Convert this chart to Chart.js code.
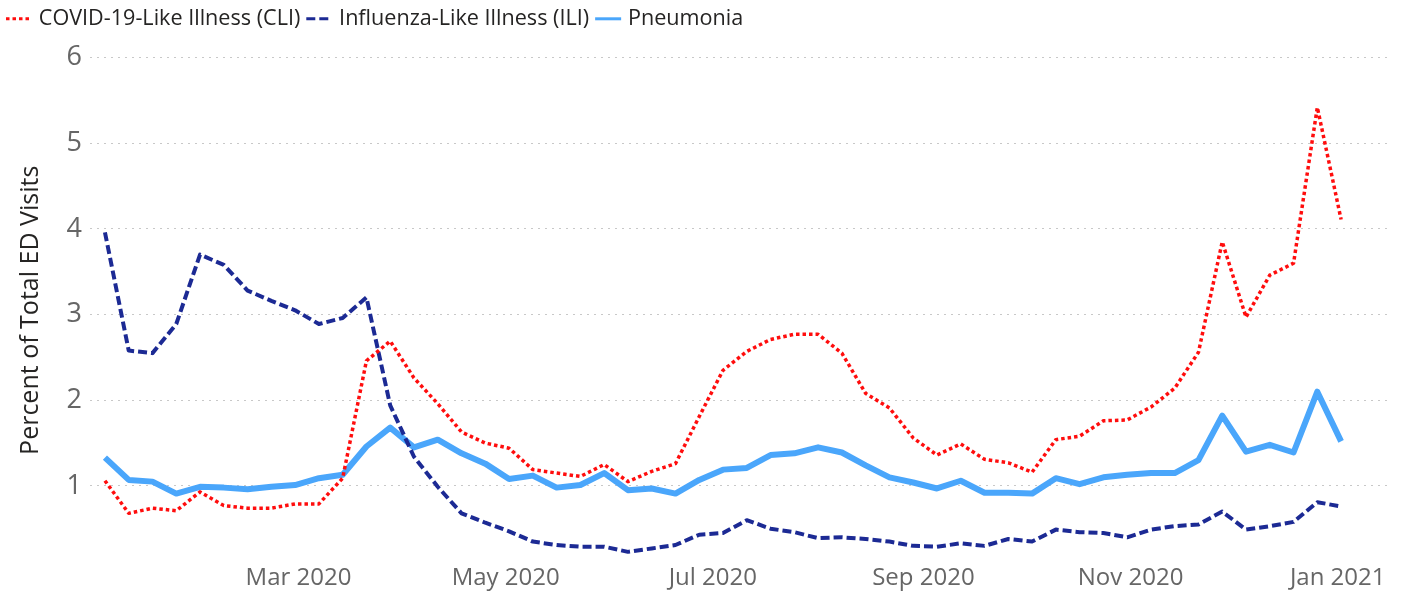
<!DOCTYPE html>
<html>
<head>
<meta charset="utf-8">
<script src="https://cdn.jsdelivr.net/npm/chart.js@4.4.1/dist/chart.umd.min.js"></script>
<style>
    html, body { margin: 0; padding: 0; background: #ffffff; }
    #chartBox { position: relative; width: 1404px; height: 592px; }
</style>
</head>
<body>
<div id="chartBox"><canvas id="myChart"></canvas></div>
<script>
// week ending dates (MMWR weeks of 2020)
const weekEnding = [
    '2020-01-04', '2020-01-11', '2020-01-18', '2020-01-25', '2020-02-01', '2020-02-08', '2020-02-15',
    '2020-02-22', '2020-02-29', '2020-03-07', '2020-03-14', '2020-03-21', '2020-03-28', '2020-04-04',
    '2020-04-11', '2020-04-18', '2020-04-25', '2020-05-02', '2020-05-09', '2020-05-16', '2020-05-23',
    '2020-05-30', '2020-06-06', '2020-06-13', '2020-06-20', '2020-06-27', '2020-07-04', '2020-07-11',
    '2020-07-18', '2020-07-25', '2020-08-01', '2020-08-08', '2020-08-15', '2020-08-22', '2020-08-29',
    '2020-09-05', '2020-09-12', '2020-09-19', '2020-09-26', '2020-10-03', '2020-10-10', '2020-10-17',
    '2020-10-24', '2020-10-31', '2020-11-07', '2020-11-14', '2020-11-21', '2020-11-28', '2020-12-05',
    '2020-12-12', '2020-12-19', '2020-12-26', '2021-01-02'
];

// percent of total ED visits
const cliValues = [
    1.06, 0.68, 0.74, 0.71, 0.93, 0.77, 0.74, 0.74, 0.79, 0.79, 1.09, 2.46, 2.69, 2.26,
    1.96, 1.63, 1.50, 1.44, 1.19, 1.15, 1.11, 1.25, 1.05, 1.17, 1.26, 1.81, 2.35, 2.57,
    2.71, 2.77, 2.77, 2.55, 2.08, 1.91, 1.56, 1.36, 1.49, 1.31, 1.27, 1.16, 1.54, 1.58,
    1.76, 1.77, 1.92, 2.14, 2.56, 3.85, 2.97, 3.46, 3.60, 5.42, 4.11
];
const iliValues = [
    3.96, 2.58, 2.55, 2.89, 3.70, 3.58, 3.28, 3.16, 3.05, 2.89, 2.96, 3.20, 1.94, 1.34,
    0.99, 0.68, 0.57, 0.47, 0.35, 0.31, 0.29, 0.29, 0.23, 0.27, 0.31, 0.43, 0.45, 0.60,
    0.50, 0.46, 0.39, 0.40, 0.38, 0.35, 0.30, 0.29, 0.33, 0.30, 0.38, 0.35, 0.49, 0.46,
    0.45, 0.40, 0.49, 0.53, 0.55, 0.70, 0.49, 0.53, 0.58, 0.81, 0.76
];
const pneumoniaValues = [
    1.33, 1.07, 1.05, 0.91, 0.99, 0.98, 0.96, 0.99, 1.01, 1.09, 1.13, 1.46, 1.68, 1.45,
    1.54, 1.38, 1.26, 1.08, 1.12, 0.98, 1.01, 1.15, 0.95, 0.97, 0.91, 1.07, 1.19, 1.21,
    1.36, 1.38, 1.45, 1.39, 1.24, 1.10, 1.04, 0.97, 1.06, 0.92, 0.92, 0.91, 1.09, 1.02,
    1.10, 1.13, 1.15, 1.15, 1.30, 1.82, 1.40, 1.48, 1.39, 2.10, 1.52
];

// axis ticks
const yTickValues = [1, 2, 3, 4, 5, 6];
const xTickDates = ['2020-03-01', '2020-05-01', '2020-07-01', '2020-09-01', '2020-11-01', '2021-01-01'];
const xTickLabels = ['Mar 2020', 'May 2020', 'Jul 2020', 'Sep 2020', 'Nov 2020', 'Jan 2021'];

// days since 2020-01-01
const toDay = (s) => {
    const p = s.split('-');
    return (Date.UTC(+p[0], +p[1] - 1, +p[2]) - Date.UTC(2020, 0, 1)) / 86400000;
}

const makePoints = (values) => {
    let pts = new Array();
    for (let index = 0; index < values.length; index++) {
        pts.push({ x: toDay(weekEnding[index]), y: values[index] });
    }
    return pts;
}

const fontName = "'Open Sans', sans-serif";

// extra room under the legend + line samples drawn with the dash of each series
const legendLines = {
    id: 'legendLines',
    beforeInit(chart) {
        const fitLegend = chart.legend.fit;
        chart.legend.fit = function fit() {
            fitLegend.bind(chart.legend)();
            this.height += 18;
        };
    },
    afterDraw(chart) {
        const legend = chart.legend;
        if (!legend || !legend.legendHitBoxes) return;
        const c = chart.ctx;
        legend.legendHitBoxes.forEach((box, i) => {
            const ds = chart.data.datasets[i];
            const y = box.top + box.height / 2;
            c.save();
            c.strokeStyle = ds.borderColor;
            c.lineWidth = 3;
            c.setLineDash(ds.borderDash || []);
            c.beginPath();
            c.moveTo(box.left, y);
            c.lineTo(box.left + 26, y);
            c.stroke();
            c.restore();
        });
    }
};

const ctx = document.getElementById('myChart');

mychartView = new Chart(ctx, {
    type: 'line',
    data: {
        datasets: [{
            label: 'COVID-19-Like Illness (CLI)',
            data: makePoints(cliValues),
            borderColor: '#ff0d0d',
            borderWidth: 3.5,
            borderDash: [3.5, 3]
        }, {
            label: 'Influenza-Like Illness (ILI)',
            data: makePoints(iliValues),
            borderColor: '#1c2a94',
            borderWidth: 4,
            borderDash: [9, 4]
        }, {
            label: 'Pneumonia',
            data: makePoints(pneumoniaValues),
            borderColor: '#4aa6fb',
            borderWidth: 6
        }]
    },
    plugins: [legendLines],
    options: {
        responsive: true,
        maintainAspectRatio: false,
        animation: false,
        layout: {
            padding: { top: 2, right: 14, bottom: 0, left: 0 }
        },
        elements: {
            point: { radius: 0, hoverRadius: 0 },
            line: { tension: 0, borderJoinStyle: 'round' }
        },
        plugins: {
            tooltip: { enabled: false },
            legend: {
                position: 'top',
                align: 'start',
                labels: {
                    boxWidth: 22,
                    boxHeight: 2,
                    padding: 6,
                    color: '#252423',
                    font: { family: fontName, size: 21.6 },
                    generateLabels: (chart) => {
                        const items = Chart.defaults.plugins.legend.labels.generateLabels(chart);
                        items.forEach((item) => {
                            item.fillStyle = 'rgba(0,0,0,0)';
                            item.strokeStyle = 'rgba(0,0,0,0)';
                            item.lineWidth = 0;
                        });
                        return items;
                    }
                }
            }
        },
        scales: {
            x: {
                type: 'linear',
                min: -1.4,
                max: 381.4,
                grid: { display: false },
                border: { display: false },
                afterBuildTicks: (scale) => {
                    scale.ticks = xTickDates.map((d) => ({ value: toDay(d) }));
                },
                afterFit: (scale) => { scale.height = 29; },
                ticks: {
                    color: '#666666',
                    font: { family: fontName, size: 24 },
                    padding: -7,
                    maxRotation: 0,
                    autoSkip: false,
                    callback: (value) => {
                        const i = xTickDates.findIndex((d) => toDay(d) === value);
                        return i >= 0 ? xTickLabels[i] : '';
                    }
                }
            },
            y: {
                min: 0.1,
                max: 6,
                afterBuildTicks: (scale) => {
                    scale.ticks = yTickValues.map((v) => ({ value: v }));
                },
                afterFit: (scale) => { scale.width = 90; },
                grid: { color: '#c8c8c8', lineWidth: 1, drawTicks: false },
                border: { display: false, dash: [2, 5] },
                ticks: {
                    color: '#666666',
                    font: { family: fontName, size: 27 },
                    padding: 8
                },
                title: {
                    display: true,
                    text: 'Percent of Total ED Visits',
                    color: '#252423',
                    font: { family: fontName, size: 25 },
                    padding: { top: 16, bottom: 0 }
                }
            }
        }
    }
});
</script>
</body>
</html>
